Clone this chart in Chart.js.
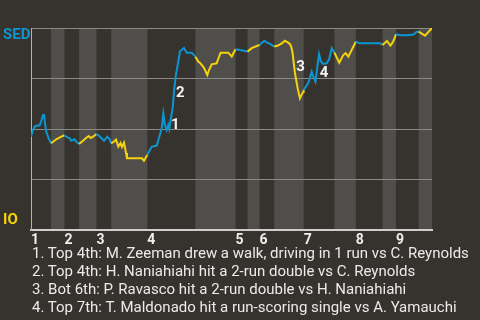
<!DOCTYPE html>
<html>
<head>
<meta charset="utf-8">
<script src="https://cdn.jsdelivr.net/npm/chart.js@4.4.1/dist/chart.umd.min.js"></script>
<style>
  html, body { margin:0; padding:0; background:#36332f; }
  #wrap { position:relative; width:480px; height:320px; overflow:hidden; background:#36332f; }
  #c { position:absolute; left:0; top:0; }
  #notes { position:absolute; left:32px; top:244px; font-family:Roboto, "Noto Sans", sans-serif; font-size:15px; line-height:18px; color:#ebebeb; white-space:nowrap; }
</style>
</head>
<body>
<div id="wrap">
  <canvas id="c" width="480" height="250"></canvas>
  <div id="notes"></div>
</div>
<script>
// ---- data ----
const awayTeam = "SED";
const homeTeam = "IO";
// x: pitch number through the game, y: SED win probability (%)
const pitchNo = [0,1.5,3.2,6.5,7.7,9.0,9.7,10.2,11.4,13.2,
  15,16.5,18.9,22.7,25,26.4,29.0,30.1,32.7,33.9,
  36,38.9,41.4,43.2,44.7,46.4,49,50.1,52.1,54.6,
  57.1,58.9,60,62.1,63.6,65.3,67.0,68.1,69.6,71.1,
  71.8,83.0,84.5,87,90.3,94.0,96.0,97.8,99.0,100.2,
  101.5,102.7,103.5,104.5,106.0,107.2,108.5,110.2,111.5,112.7,
  114.5,116.5,120.2,123,125.2,126.4,128.9,130.2,131.9,133.2,
  135.2,138.9,140.3,141.9,147.6,150.2,153,156.4,160.1,162,
  165.1,168.9,171,174.5,176.6,178.8,182,184.8,187.6,190.0,
  193.2,194.5,195.6,197.5,199.5,201.2,203.7,204,207.5,210.0,
  211.2,212.8,214.7,215.5,217.0,218.7,221.2,222.9,225.0,227,
  230.6,233.6,235.4,237.4,241.1,243,246.1,261.1,263,266.3,
  268.9,270.8,272.3,273,276.1,281.3,286.2,288.6,290,294.8,
  300];
const sedWinPct = [46.2,49.5,51.5,51.8,54.1,56.9,57.4,54.1,48.7,45.4,
  42.9,43.7,44.9,46.2,46.9,46.2,45.4,44.2,44.9,43.7,
  42.6,44.2,45.7,46.5,45.5,46.2,47.5,47.0,45.9,44.2,
  46.2,44.9,42.9,43.8,44.8,41.3,43.1,41.1,43.2,38.1,
  35.5,35.5,34.3,37.1,41.2,41.8,46.2,50.3,57.7,52.0,
  49.5,52.0,50.0,54.5,60.4,70.1,77.2,83.3,88.6,89.1,
  90.1,87.8,87.8,85.8,83.3,82.8,80.8,79.2,76.7,79.2,
  82.0,82.5,85.1,87.8,87.8,85.9,89.5,89.1,88.6,88.3,
  90.0,91.1,91.6,93.7,92.8,92.1,90.8,91.3,92.4,93.7,
  92.4,91.1,88.1,77.6,70.1,65.2,68.5,69.3,72.9,78.4,
  75.9,73.4,83.2,87.1,83.3,82.2,82.5,84.2,90.0,87.8,
  82.8,86.6,87.5,85.8,90.7,93.2,92.4,92.4,91.6,93.6,
  91.3,93.1,95.5,96.9,96.4,96.4,96.8,98.2,98.2,96.2,
  100];
// pitch number at which each half-inning starts (top 1st, bot 1st, ...), last = end of game
const halfInningStarts = [0,15,25,36,49,60,87,123,153,162,171,182,204,227,243,263,273,290,300];
const inningLabels = ["1","2","3","4","5","6","7","8","9"];
// key events: index into the series, and caption
const eventPoint = [52, 55, 93, 101];
const eventNotes = [
  "1. Top 4th: M. Zeeman drew a walk, driving in 1 run vs C. Reynolds",
  "2. Top 4th: H. Naniahiahi hit a 2-run double vs C. Reynolds",
  "3. Bot 6th: P. Ravasco hit a 2-run double vs H. Naniahiahi",
  "4. Top 7th: T. Maldonado hit a run-scoring single vs A. Yamauchi"
];

// ---- styles ----
const BG = '#36332f', BAND = '#504e4b';
const BLUE = '#0b96d1', YELLOW = '#f6d20c';
const FONT = 'Roboto, "Noto Sans", sans-serif';

document.getElementById('notes').innerHTML = eventNotes.map(t => '<div>' + t + '</div>').join('');

function halfIndex(x) {
  let k = 0;
  for (let i = 0; i < halfInningStarts.length - 1; i++) if (halfInningStarts[i] <= x) k = i;
  return k;
}

const bandPlugin = {
  id: 'bands',
  beforeDraw(chart) {
    const {ctx, chartArea, scales} = chart;
    ctx.save();
    ctx.fillStyle = BG; ctx.fillRect(0, 0, chart.width, chart.height);
    for (let i = 1; i < halfInningStarts.length - 1; i += 2) {
      const x0 = scales.x.getPixelForValue(halfInningStarts[i]);
      const x1 = scales.x.getPixelForValue(halfInningStarts[i + 1]);
      ctx.fillStyle = BAND;
      ctx.fillRect(x0, chartArea.top, x1 - x0, chartArea.bottom - chartArea.top);
    }
    ctx.restore();
  }
};
const labelPlugin = {
  id: 'labels',
  afterDatasetsDraw(chart) {
    const {ctx, chartArea} = chart;
    const meta = chart.getDatasetMeta(0);
    const offs = [[6,-4],[6,5],[5.5,-6],[8.5,-8]];
    ctx.save();
    ctx.font = 'bold 15px ' + FONT;
    ctx.fillStyle = '#f2f2f2';
    ctx.textAlign = 'center';
    ctx.textBaseline = 'middle';
    eventPoint.forEach((idx, i) => {
      const p = meta.data[idx];
      ctx.fillText(String(i + 1), p.x + offs[i][0], p.y + offs[i][1]);
    });
    ctx.textAlign = 'left';
    ctx.font = 'bold 15px ' + FONT;
    ctx.fillStyle = BLUE;
    ctx.fillText(awayTeam, 3, chartArea.top + 7);
    ctx.fillStyle = YELLOW;
    ctx.fillText(homeTeam, 3, chartArea.bottom - 10);
    ctx.restore();
  }
};

const points = pitchNo.map((x, i) => ({x: x, y: sedWinPct[i]}));

new Chart(document.getElementById('c'), {
  type: 'line',
  data: {
    datasets: [{
      data: points,
      borderWidth: 2,
      pointRadius: 0,
      tension: 0,
      borderColor: BLUE,
      segment: {
        borderColor: ctx => (halfIndex((ctx.p0.parsed.x + ctx.p1.parsed.x) / 2) % 2 === 0 ? BLUE : YELLOW)
      }
    }]
  },
  options: {
    responsive: false,
    animation: false,
    events: [],
    layout: { padding: { left: 0, top: 28, right: 48, bottom: 0 } },
    plugins: { legend: { display: false }, tooltip: { enabled: false } },
    scales: {
      x: {
        type: 'linear',
        min: halfInningStarts[0],
        max: halfInningStarts[halfInningStarts.length - 1],
        afterBuildTicks: s => {
          s.ticks = halfInningStarts.filter((v, i) => i % 2 === 0 && i < halfInningStarts.length - 1).map(v => ({value: v}));
        },
        afterFit: s => { s.height = 20; },
        grid: { display: false, drawTicks: false },
        border: { display: true, color: '#cfcfcf', width: 2 },
        ticks: {
          autoSkip: false,
          maxRotation: 0,
          align: 'start',
          padding: 2,
          color: '#eeeeee',
          font: { family: FONT, size: 14, weight: 'bold' },
          callback: (v, i) => inningLabels[i]
        }
      },
      y: {
        min: 0, max: 100,
        afterBuildTicks: s => { s.ticks = [0,25,50,75,100].map(v => ({value: v})); },
        afterFit: s => { s.width = 31; },
        grid: { color: '#8c8a87', lineWidth: 1, drawTicks: false },
        border: { display: true, color: '#b5b3b0', width: 1 },
        ticks: { display: false }
      }
    }
  },
  plugins: [bandPlugin, labelPlugin]
});
</script>
</body>
</html>
